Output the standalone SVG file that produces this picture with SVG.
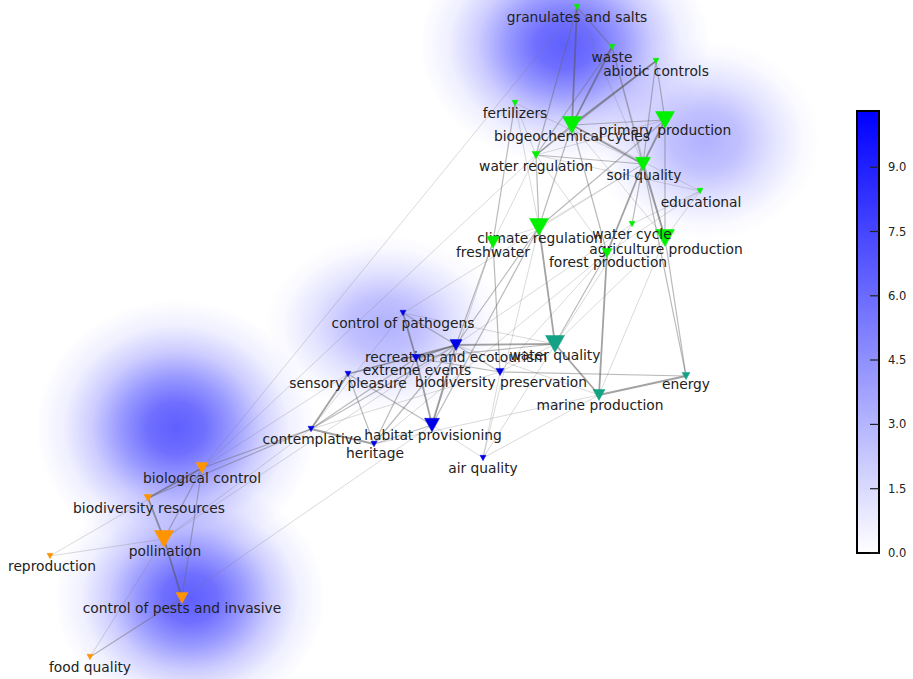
<svg xmlns="http://www.w3.org/2000/svg" width="913" height="679" viewBox="0 0 913 679">
<defs>
<radialGradient id="dens">
<stop offset="0" stop-color="#3c3cff" stop-opacity="0.82"/>
<stop offset="0.2" stop-color="#3c3cff" stop-opacity="0.74"/>
<stop offset="0.4" stop-color="#3c3cff" stop-opacity="0.52"/>
<stop offset="0.6" stop-color="#3c3cff" stop-opacity="0.26"/>
<stop offset="0.8" stop-color="#3c3cff" stop-opacity="0.08"/>
<stop offset="1" stop-color="#3c3cff" stop-opacity="0"/>
</radialGradient>
<radialGradient id="densL">
<stop offset="0" stop-color="#3c3cff" stop-opacity="0.4"/>
<stop offset="0.3" stop-color="#3c3cff" stop-opacity="0.32"/>
<stop offset="0.6" stop-color="#3c3cff" stop-opacity="0.14"/>
<stop offset="0.85" stop-color="#3c3cff" stop-opacity="0.03"/>
<stop offset="1" stop-color="#3c3cff" stop-opacity="0"/>
</radialGradient>
<linearGradient id="cbar" x1="0" y1="1" x2="0" y2="0">
<stop offset="0" stop-color="#ffffff"/>
<stop offset="1" stop-color="#0000ff"/>
</linearGradient>
<style>
.t{stroke:#777;stroke-width:0.8;stroke-opacity:0.35;fill:none}
.m{stroke:#666;stroke-width:1.2;stroke-opacity:0.45;fill:none}
.k{stroke:#555;stroke-width:1.8;stroke-opacity:0.55;fill:none}
text{font-family:"DejaVu Sans","Liberation Sans",sans-serif;font-size:13.8px;fill:#222;text-anchor:middle}
.tick{font-size:11.5px;text-anchor:start}
.g{fill:#00f000;stroke:#00f000;stroke-width:0.5}
.b{fill:#0000e6;stroke:#0000e6;stroke-width:0.5}
.c{fill:#14a285;stroke:#14a285;stroke-width:0.5}
.o{fill:#ff9400;stroke:#ff9400;stroke-width:0.5}
</style>
</defs>
<rect width="913" height="679" fill="#ffffff"/>
<g id="density">
<ellipse cx="565" cy="45" rx="145" ry="120" fill="url(#dens)"/>
<ellipse cx="705" cy="140" rx="115" ry="100" fill="url(#densL)"/>
<ellipse cx="385" cy="325" rx="120" ry="90" fill="url(#densL)"/>
<ellipse cx="176" cy="428" rx="140" ry="128" fill="url(#dens)"/>
<ellipse cx="190" cy="598" rx="135" ry="120" fill="url(#dens)"/>
</g>
<g id="connectors">
<line class="m" x1="577" y1="7" x2="612" y2="47"/>
<line class="k" x1="577" y1="7" x2="572" y2="125"/>
<line class="m" x1="577" y1="7" x2="536" y2="155"/>
<line class="t" x1="577" y1="7" x2="202" y2="468"/>
<line class="t" x1="577" y1="7" x2="643" y2="164"/>
<line class="k" x1="612" y1="47" x2="572" y2="125"/>
<line class="m" x1="612" y1="47" x2="536" y2="155"/>
<line class="m" x1="612" y1="47" x2="643" y2="164"/>
<line class="t" x1="612" y1="47" x2="665" y2="238"/>
<line class="k" x1="656" y1="61" x2="572" y2="125"/>
<line class="m" x1="656" y1="61" x2="665" y2="120"/>
<line class="m" x1="656" y1="61" x2="643" y2="164"/>
<line class="m" x1="656" y1="61" x2="536" y2="155"/>
<line class="m" x1="515" y1="103" x2="493" y2="242"/>
<line class="t" x1="515" y1="103" x2="536" y2="155"/>
<line class="t" x1="515" y1="103" x2="643" y2="164"/>
<line class="t" x1="515" y1="103" x2="539" y2="227"/>
<line class="m" x1="572" y1="125" x2="665" y2="120"/>
<line class="k" x1="572" y1="125" x2="643" y2="164"/>
<line class="m" x1="572" y1="125" x2="536" y2="155"/>
<line class="m" x1="572" y1="125" x2="539" y2="227"/>
<line class="m" x1="572" y1="125" x2="607" y2="253"/>
<line class="t" x1="572" y1="125" x2="700" y2="191"/>
<line class="t" x1="572" y1="125" x2="665" y2="238"/>
<line class="k" x1="665" y1="120" x2="643" y2="164"/>
<line class="m" x1="665" y1="120" x2="665" y2="238"/>
<line class="m" x1="665" y1="120" x2="539" y2="227"/>
<line class="t" x1="665" y1="120" x2="536" y2="155"/>
<line class="m" x1="536" y1="155" x2="643" y2="164"/>
<line class="m" x1="536" y1="155" x2="539" y2="227"/>
<line class="t" x1="536" y1="155" x2="700" y2="191"/>
<line class="t" x1="536" y1="155" x2="493" y2="242"/>
<line class="t" x1="536" y1="155" x2="202" y2="468"/>
<line class="t" x1="536" y1="155" x2="607" y2="253"/>
<line class="k" x1="643" y1="164" x2="665" y2="238"/>
<line class="k" x1="643" y1="164" x2="607" y2="253"/>
<line class="m" x1="643" y1="164" x2="632" y2="224"/>
<line class="m" x1="643" y1="164" x2="686" y2="376"/>
<line class="t" x1="643" y1="164" x2="403" y2="313"/>
<line class="t" x1="643" y1="164" x2="539" y2="227"/>
<line class="t" x1="700" y1="191" x2="665" y2="238"/>
<line class="t" x1="700" y1="191" x2="607" y2="253"/>
<line class="t" x1="700" y1="191" x2="632" y2="224"/>
<line class="k" x1="539" y1="227" x2="555" y2="344"/>
<line class="m" x1="539" y1="227" x2="456" y2="345"/>
<line class="m" x1="539" y1="227" x2="432" y2="425"/>
<line class="t" x1="539" y1="227" x2="493" y2="242"/>
<line class="m" x1="493" y1="242" x2="456" y2="345"/>
<line class="m" x1="493" y1="242" x2="500" y2="372"/>
<line class="t" x1="493" y1="242" x2="432" y2="425"/>
<line class="m" x1="607" y1="253" x2="555" y2="344"/>
<line class="k" x1="607" y1="253" x2="599" y2="395"/>
<line class="t" x1="607" y1="253" x2="500" y2="372"/>
<line class="t" x1="607" y1="253" x2="374" y2="444"/>
<line class="m" x1="665" y1="238" x2="686" y2="376"/>
<line class="t" x1="665" y1="238" x2="599" y2="395"/>
<line class="t" x1="665" y1="238" x2="555" y2="344"/>
<line class="t" x1="632" y1="224" x2="456" y2="345"/>
<line class="t" x1="632" y1="224" x2="483" y2="458"/>
<line class="k" x1="555" y1="344" x2="599" y2="395"/>
<line class="k" x1="599" y1="395" x2="686" y2="376"/>
<line class="m" x1="500" y1="372" x2="686" y2="376"/>
<line class="k" x1="456" y1="345" x2="555" y2="344"/>
<line class="t" x1="456" y1="345" x2="599" y2="395"/>
<line class="m" x1="416" y1="358" x2="555" y2="344"/>
<line class="t" x1="500" y1="372" x2="555" y2="344"/>
<line class="m" x1="403" y1="313" x2="456" y2="345"/>
<line class="k" x1="403" y1="313" x2="416" y2="358"/>
<line class="t" x1="403" y1="313" x2="555" y2="344"/>
<line class="t" x1="403" y1="313" x2="311" y2="429"/>
<line class="k" x1="456" y1="345" x2="348" y2="374"/>
<line class="k" x1="456" y1="345" x2="416" y2="358"/>
<line class="m" x1="456" y1="345" x2="311" y2="429"/>
<line class="k" x1="456" y1="345" x2="432" y2="425"/>
<line class="m" x1="456" y1="345" x2="374" y2="444"/>
<line class="m" x1="456" y1="345" x2="500" y2="372"/>
<line class="k" x1="416" y1="358" x2="432" y2="425"/>
<line class="m" x1="416" y1="358" x2="311" y2="429"/>
<line class="m" x1="416" y1="358" x2="500" y2="372"/>
<line class="m" x1="416" y1="358" x2="374" y2="444"/>
<line class="k" x1="348" y1="374" x2="311" y2="429"/>
<line class="m" x1="348" y1="374" x2="374" y2="444"/>
<line class="m" x1="348" y1="374" x2="432" y2="425"/>
<line class="k" x1="311" y1="429" x2="374" y2="444"/>
<line class="t" x1="311" y1="429" x2="500" y2="372"/>
<line class="t" x1="432" y1="425" x2="483" y2="458"/>
<line class="m" x1="432" y1="425" x2="374" y2="444"/>
<line class="t" x1="483" y1="458" x2="500" y2="372"/>
<line class="t" x1="483" y1="458" x2="599" y2="395"/>
<line class="t" x1="374" y1="444" x2="599" y2="395"/>
<line class="t" x1="483" y1="458" x2="539" y2="227"/>
<line class="k" x1="202" y1="468" x2="148" y2="498"/>
<line class="m" x1="202" y1="468" x2="164" y2="539"/>
<line class="m" x1="202" y1="468" x2="182" y2="598"/>
<line class="k" x1="148" y1="498" x2="164" y2="539"/>
<line class="k" x1="164" y1="539" x2="182" y2="598"/>
<line class="t" x1="164" y1="539" x2="90" y2="657"/>
<line class="m" x1="182" y1="598" x2="90" y2="657"/>
<line class="t" x1="50" y1="556" x2="202" y2="468"/>
<line class="t" x1="50" y1="556" x2="164" y2="539"/>
<line class="m" x1="202" y1="468" x2="311" y2="429"/>
<line class="m" x1="148" y1="498" x2="311" y2="429"/>
<line class="t" x1="164" y1="539" x2="311" y2="429"/>
<line class="t" x1="164" y1="539" x2="456" y2="345"/>
<line class="t" x1="182" y1="598" x2="432" y2="425"/>
<line class="t" x1="202" y1="468" x2="348" y2="374"/>
</g>
<g id="nodes">
<g id="n-primary"><polygon class="g" points="655.5,111.5 674.5,111.5 665,128.5"/><text x="665" y="134.5">primary production</text></g>
<g id="n-granulates"><polygon class="g" points="574,4.3 580,4.3 577,9.7"/><text x="577" y="21.5">granulates and salts</text></g>
<g id="n-waste"><polygon class="g" points="609,44.3 615,44.3 612,49.7"/><text x="612" y="61.5">waste</text></g>
<g id="n-abiotic"><polygon class="g" points="653,58.3 659,58.3 656,63.7"/><text x="656" y="75.5">abiotic controls</text></g>
<g id="n-fertilizers"><polygon class="g" points="512,100.3 518,100.3 515,105.7"/><text x="515" y="117.5">fertilizers</text></g>
<g id="n-biogeochemical"><polygon class="g" points="562.5,116.5 581.5,116.5 572,133.5"/><text x="572" y="140.5">biogeochemical cycles</text></g>
<g id="n-waterreg"><polygon class="g" points="532,151.4 540,151.4 536,158.6"/><text x="536" y="170.5">water regulation</text></g>
<g id="n-soil"><polygon class="g" points="635.5,157.3 650.5,157.3 643,170.8"/><text x="644" y="179.5">soil quality</text></g>
<g id="n-educational"><polygon class="g" points="697,188.3 703,188.3 700,193.7"/><text x="701" y="206.5">educational</text></g>
<g id="n-agriculture"><polygon class="g" points="655.5,229.5 674.5,229.5 665,246.5"/><text x="666" y="253.5">agriculture production</text></g>
<g id="n-forest"><polygon class="g" points="602,248.5 612,248.5 607,257.5"/><text x="608" y="266.5">forest production</text></g>
<g id="n-climate"><polygon class="g" points="529.5,218.5 548.5,218.5 539,235.5"/><text x="540" y="242.5">climate regulation</text></g>
<g id="n-freshwater"><polygon class="g" points="486.5,236.2 499.5,236.2 493,247.9"/><text x="493" y="256.5">freshwater</text></g>
<g id="n-watercycle"><polygon class="g" points="629,221.3 635,221.3 632,226.7"/><text x="632" y="238.5">water cycle</text></g>
<g id="n-waterquality"><polygon class="c" points="545.5,335.5 564.5,335.5 555,352.5"/><text x="555" y="359.5">water quality</text></g>
<g id="n-pathogens"><polygon class="b" points="400,310.3 406,310.3 403,315.7"/><text x="403" y="327.5">control of pathogens</text></g>
<g id="n-recreation"><polygon class="b" points="450,339.6 462,339.6 456,350.4"/><text x="456" y="361.5">recreation and ecotourism</text></g>
<g id="n-extreme"><polygon class="b" points="412,354.4 420,354.4 416,361.6"/><text x="417" y="374.5">extreme events</text></g>
<g id="n-sensory"><polygon class="b" points="345,371.3 351,371.3 348,376.7"/><text x="348" y="387.5">sensory pleasure</text></g>
<g id="n-biopres"><polygon class="b" points="496,368.4 504,368.4 500,375.6"/><text x="501" y="386.5">biodiversity preservation</text></g>
<g id="n-energy"><polygon class="c" points="682,372.4 690,372.4 686,379.6"/><text x="686" y="388.5">energy</text></g>
<g id="n-marine"><polygon class="c" points="593,389.6 605,389.6 599,400.4"/><text x="600" y="409.5">marine production</text></g>
<g id="n-habitat"><polygon class="b" points="424.5,418.3 439.5,418.3 432,431.8"/><text x="433" y="439.5">habitat provisioning</text></g>
<g id="n-contemplative"><polygon class="b" points="308,426.3 314,426.3 311,431.7"/><text x="312" y="443.5">contemplative</text></g>
<g id="n-heritage"><polygon class="b" points="371,441.3 377,441.3 374,446.7"/><text x="375" y="457.5">heritage</text></g>
<g id="n-airquality"><polygon class="b" points="480,455.3 486,455.3 483,460.7"/><text x="483" y="472.5">air quality</text></g>
<g id="n-biocontrol"><polygon class="o" points="196,462.6 208,462.6 202,473.4"/><text x="202" y="482.5">biological control</text></g>
<g id="n-pollination"><polygon class="o" points="154.5,530.5 173.5,530.5 164,547.5"/><text x="165" y="555.5">pollination</text></g>
<g id="n-biores"><polygon class="o" points="144,494.4 152,494.4 148,501.6"/><text x="149" y="512.5">biodiversity resources</text></g>
<g id="n-reproduction"><polygon class="o" points="47,553.3 53,553.3 50,558.7"/><text x="52" y="570.5">reproduction</text></g>
<g id="n-pests"><polygon class="o" points="176,592.6 188,592.6 182,603.4"/><text x="182" y="612.5">control of pests and invasive</text></g>
<g id="n-food"><polygon class="o" points="87,654.3 93,654.3 90,659.7"/><text x="90" y="671.5">food quality</text></g>
</g>
<g id="colorbar">
<rect x="857" y="111" width="22" height="442" fill="url(#cbar)" stroke="#000" stroke-width="2"/>
<g stroke="#222" stroke-width="1.2">
<line x1="870" y1="553" x2="879" y2="553"/>
<line x1="870" y1="488.7" x2="879" y2="488.7"/>
<line x1="870" y1="424.4" x2="879" y2="424.4"/>
<line x1="870" y1="360" x2="879" y2="360"/>
<line x1="870" y1="295.8" x2="879" y2="295.8"/>
<line x1="870" y1="231.5" x2="879" y2="231.5"/>
<line x1="870" y1="167.2" x2="879" y2="167.2"/>
</g>
<text class="tick" x="888" y="557">0.0</text>
<text class="tick" x="888" y="492.7">1.5</text>
<text class="tick" x="888" y="428.4">3.0</text>
<text class="tick" x="888" y="364">4.5</text>
<text class="tick" x="888" y="299.8">6.0</text>
<text class="tick" x="888" y="235.5">7.5</text>
<text class="tick" x="888" y="171.2">9.0</text>
</g>
</svg>
